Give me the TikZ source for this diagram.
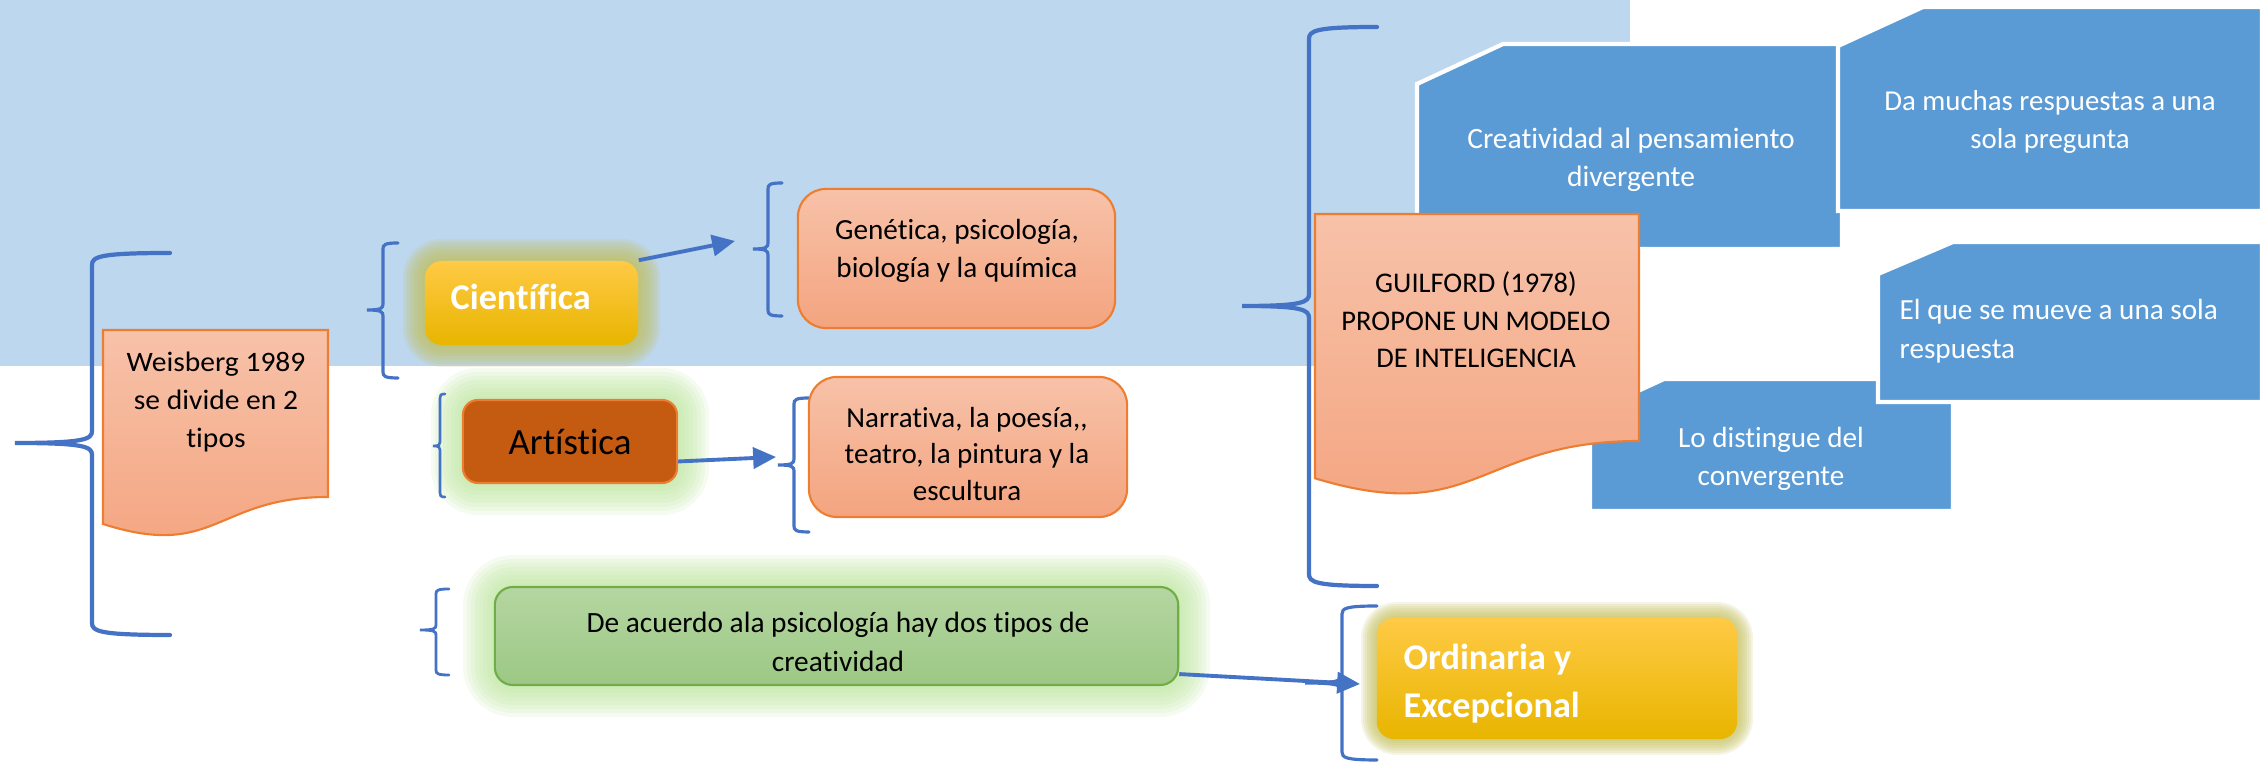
\documentclass[tikz,border=0pt]{standalone}
\usepackage{fontspec}
\setmainfont{Carlito}[Ligatures={NoCommon}]
\newfontfamily\wfont{Carlito}[Ligatures={NoCommon},FakeStretch=1.05]
\usetikzlibrary{arrows.meta,calc}
\definecolor{bgblue}{HTML}{BDD7EE}
\definecolor{brblue}{HTML}{4472C4}
\definecolor{salT}{HTML}{F7C2A9}
\definecolor{salB}{HTML}{F4A47F}
\definecolor{orng}{HTML}{ED7D31}
\definecolor{goldT}{HTML}{FFCA45}
\definecolor{goldM}{HTML}{FFC000}
\definecolor{goldB}{HTML}{E8B500}
\definecolor{artc}{HTML}{C55A11}
\definecolor{grnT}{HTML}{B5D6A2}
\definecolor{grnB}{HTML}{9CC884}
\definecolor{grnE}{HTML}{70AD47}
\definecolor{glowg}{HTML}{BEE6A0}
\definecolor{glowy}{HTML}{C4C05E}
\definecolor{bbox}{HTML}{5B9BD5}
\newcommand\fs[2]{\fontsize{#1}{#2}\selectfont}
\tikzset{
  brc/.style={draw=brblue, line width=1.1pt, line cap=round},
  arr/.style={draw=brblue, line width=1.1pt, -{Triangle[length=6.5pt,width=6pt]}},
  salbox/.style={draw=orng, line width=0.6pt, top color=salT, bottom color=salB, rounded corners=0.28cm, inner sep=0pt},
  docsty/.style={draw=orng, line width=0.6pt, top color=salT, bottom color=salB},
  goldbox/.style={draw=none, top color=goldT, middle color=goldM, bottom color=goldB, rounded corners=0.17cm, inner sep=0pt},
  artbox/.style={draw=orng, line width=0.6pt, fill=artc, rounded corners=0.15cm, inner sep=0pt},
  grnbox/.style={draw=grnE, line width=0.6pt, top color=grnT, bottom color=grnB, rounded corners=0.18cm, inner sep=0pt},
  snip/.style={fill=bbox, draw=white, line width=1.2pt, line join=miter},
  txt/.style={inner sep=0pt, align=center, text=black},
  wtxt/.style={inner sep=0pt, align=center, text=white},
}
% optional style, name, xv, ytop, ybot, xtip, ytip, xend, r
\newcommand\brc[9][]{%
  \coordinate (#2) at (#6,#7);
  \draw[brc,#1] (#8,#4) .. controls ({#3+0.1*(#8-#3)},#4) and (#3,{#4+0.3*#9}) .. (#3,{#4+#9})
    -- (#3,{#7-#9}) .. controls (#3,{#7-0.3*#9}) and ({#3-0.1*(#3-#6)},#7) .. (#2)
    .. controls ({#3-0.1*(#3-#6)},#7) and (#3,{#7+0.3*#9}) .. (#3,{#7+#9})
    -- (#3,{#5-#9}) .. controls (#3,{#5-0.3*#9}) and ({#3+0.1*(#8-#3)},#5) .. (#8,#5);
}
% x1 y1 x2 y2 colour spread radius
\newcommand\glow[7]{%
  \foreach \gi in {1,...,8}{%
    \pgfmathsetlengthmacro\gr{(#7+#6*\gi/8)*0.01cm}%
    \fill[#5, opacity=0.16, rounded corners=\gr] ({#1-#6*\gi/8},{#2-#6*\gi/8}) rectangle ({#3+#6*\gi/8},{#4+#6*\gi/8});
  }%
}
\begin{document}
\begin{tikzpicture}[x=0.01cm,y=-0.01cm]
\useasboundingbox (0,0) rectangle (2260,762);
\fill[bgblue] (0,0) rectangle (1630,366);

% glows
\glow{425}{261}{638}{345}{glowy}{22}{17}
\glow{463}{400}{677}{483}{glowg}{32}{15}
\glow{495}{587}{1178}{685}{glowg}{32}{18}
\glow{1377}{618}{1737}{739}{glowy}{16}{20}

% left part
\brc[line width=1.2pt]{b1}{92}{253}{635}{15}{443}{170}{12}
\draw[docsty] (103,330) -- (328,330) -- (328,497) .. controls (215.5,497) and (215.5,560) .. (103,524) -- cycle;
\node[txt, font=\wfont\fs{8pt}{10.7pt}] (weis) at (216,402) {Weisberg 1989\\se divide en 2\\tipos};

% Cientifica branch
\brc[line width=0.9pt]{b2}{383}{243}{378}{367}{310}{398}{6}
\node[goldbox, minimum width=2.13cm, minimum height=0.84cm] (cien) at (531.5,303) {};
\node[anchor=base west, inner sep=0pt, text=white, font=\bfseries\fs{10.3pt}{12pt}] (cient) at (450,310) {Científica};
\coordinate (a1e) at (735,241);
\draw[arr] (cien.north east) -- (a1e);
\brc[line width=0.9pt]{b3}{768}{183}{316}{753}{249}{782}{6}
\node[salbox, minimum width=3.17cm, minimum height=1.39cm] (gen) at (956.5,258.5) {};
\node[txt, font=\fs{8.3pt}{10.9pt}] (gent) at (957,251) {Genética, psicología,\\biología y la química};

% Artistica branch
\brc[line width=0.75pt]{b4}{440}{394}{497}{433}{446}{445}{4}
\node[artbox, minimum width=2.14cm, minimum height=0.83cm, font=\fs{10.5pt}{12pt}] (art) at (570,441.5) {Artística};
\coordinate (a2e) at (776,457);
\draw[arr] ($(art.east)+(0,20)$) -- (a2e);
\brc[line width=0.9pt]{b5}{794}{398}{532}{778}{465}{809}{6}
\node[salbox, minimum width=3.18cm, minimum height=1.40cm] (nar) at (968,447) {};
\node[txt, font=\fs{8.25pt}{10.5pt}] (nart) at (967,454) {Narrativa, la poesía,\kern0pt,\\teatro, la pintura y la\\escultura};

% De acuerdo branch
\brc[line width=0.8pt]{b6}{436}{589}{675}{420}{630}{449}{5}
\node[grnbox, minimum width=6.83cm, minimum height=0.98cm] (acu) at (836.5,636) {};
\node[txt, font=\fs{8.35pt}{11.1pt}] (acut) at (838,642) {De acuerdo ala psicología hay dos tipos de\\creatividad};
\brc[line width=0.9pt]{b7}{1342}{606}{760}{1305}{683}{1377}{8}
\coordinate (a3e) at (1360,684);
\draw[arr] ($(acu.south east)+(0,-12)$) -- (a3e);
\node[goldbox, minimum width=3.60cm, minimum height=1.21cm] (ord) at (1557,678.5) {};
\node[anchor=west, inner sep=0pt, align=left, text=white, font=\bfseries\fs{10.3pt}{13.7pt}] (ordt) at (1403,684) {Ordinaria y\\Excepcional};

% Guilford part
\brc[line width=1.2pt]{b8}{1309}{27}{586}{1242}{306}{1377}{12}
\path[snip] (1503,44) -- (1842,44) -- (1842,249) -- (1417,249) -- (1417,84) -- cycle;
\node[wtxt, font=\fs{8.4pt}{10.8pt}] (cret) at (1631,160) {Creatividad al pensamiento\\divergente};
\path[snip] (1923,7) -- (2262,7) -- (2262,211) -- (1838,211) -- (1838,46) -- cycle;
\node[wtxt, font=\fs{8.2pt}{10.6pt}] (dat) at (2050,122) {Da muchas respuestas a una\\sola pregunta};
\path[snip] (1664,379) -- (1953,379) -- (1953,511) -- (1590,511) -- (1590,413) -- cycle;
\node[wtxt, font=\fs{8.3pt}{10.8pt}] (lot) at (1771,459) {Lo distingue del\\convergente};
\path[snip] (1953,242) -- (2262,242) -- (2262,402) -- (1878,402) -- (1878,274) -- cycle;
\node[wtxt, align=left, anchor=west, font=\fs{8.3pt}{11.1pt}] (elt) at (1899,331) {El que se mueve a una sola\\respuesta};
\draw[docsty] (1315,214) -- (1639,214) -- (1639,441) .. controls (1477,441) and (1477,527.4) .. (1315,478.3) -- cycle;
\node[txt, font=\fs{8.1pt}{10.7pt}] (guit) at (1476,320) {GUILFORD (1978)\\PROPONE UN MODELO\\DE INTELIGENCIA};
\end{tikzpicture}
\end{document}
